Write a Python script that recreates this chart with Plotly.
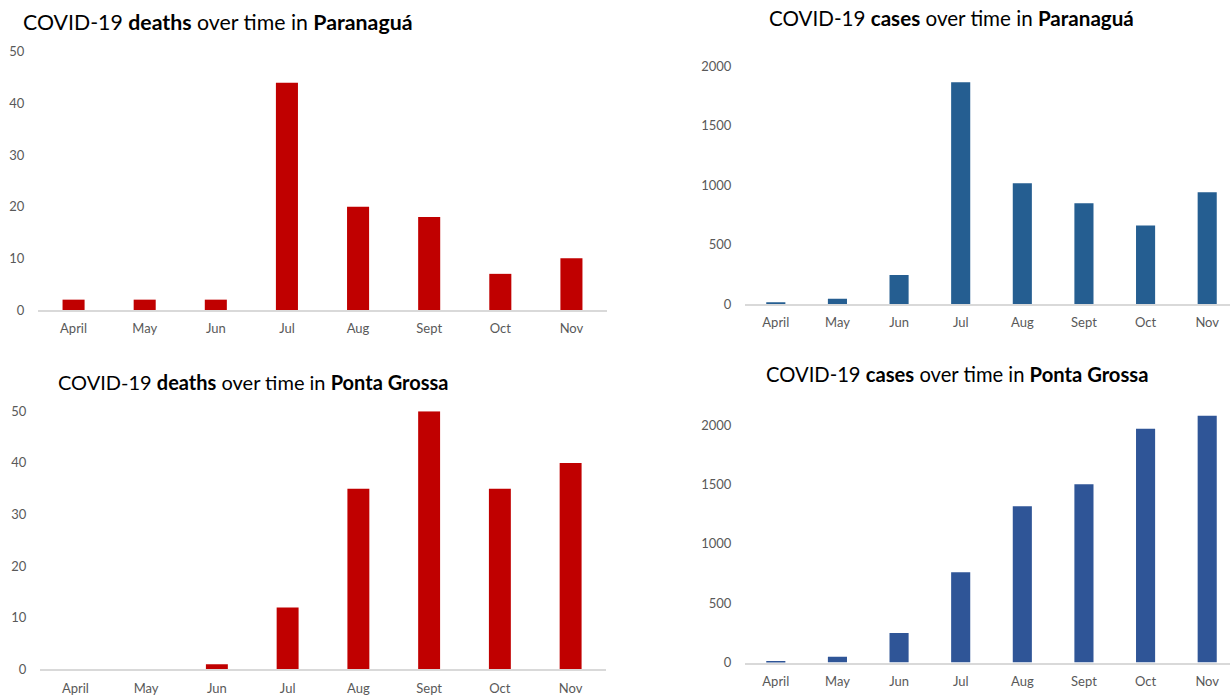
import plotly.graph_objects as go

W, H = 1230, 696

months = ['April', 'May', 'Jun', 'Jul', 'Aug', 'Sept', 'Oct', 'Nov']

# valores
deaths_paranagua = [2, 2, 2, 44, 20, 18, 7, 10]
cases_paranagua = [15, 45, 245, 1868, 1018, 848, 662, 942]
deaths_ponta_grossa = [0, 0, 1, 12, 35, 50, 35, 40]
cases_ponta_grossa = [14, 50, 250, 762, 1318, 1503, 1970, 2080]

red = '#C00000'
blue_top = '#255E91'
blue_bottom = '#2F5597'
font_name = 'Lato, Open Sans, sans-serif'
tick_grey = '#595959'


def px(x):
    return x / W


def py(y):
    return 1 - y / H


fig = go.Figure()

panels = [
    # (x, y, dados, cor, x_dom, y_dom, x_range, y_range, dtick)
    ('x', 'y', deaths_paranagua, red, [px(38), px(607)], [py(310), py(45)], [-0.5, 7.5], [0, 50], 10),
    ('x2', 'y2', cases_paranagua, blue_top, [px(745), 1.0], [py(304), py(60)], [-0.5, 7.37], [0, 2000], 500),
    ('x3', 'y3', deaths_ponta_grossa, red, [px(40), px(606)], [py(679), py(414)], [-0.5, 7.5], [0, 50], 10),
    ('x4', 'y4', cases_ponta_grossa, blue_bottom, [px(745), 1.0], [py(672), py(410)], [-0.5, 7.37], [0, 2150], 500),
]

layout_axes = {}
for i, (xa, ya, vals, col, xdom, ydom, xr, yr, dt) in enumerate(panels):
    fig.add_trace(go.Bar(
        x=months, y=vals, xaxis=xa, yaxis=ya,
        marker=dict(color=col, line=dict(width=0)),
        width=0.31, showlegend=False
    ))
    suffix = '' if i == 0 else str(i + 1)
    layout_axes['xaxis' + suffix] = dict(
        domain=xdom, range=xr, anchor=ya,
        showline=True, linecolor='#D9D9D9', linewidth=1.5,
        showgrid=False, zeroline=False,
        ticks='outside', ticklen=6, tickcolor='rgba(0,0,0,0)',
        tickfont=dict(size=13, color=tick_grey, family=font_name),
    )
    layout_axes['yaxis' + suffix] = dict(
        domain=ydom, range=yr, anchor=xa, dtick=dt,
        showline=False, showgrid=False, zeroline=False,
        ticks='outside', ticklen=10, tickcolor='rgba(0,0,0,0)',
        tickfont=dict(size=13, color=tick_grey, family=font_name),
    )

titles = [
    ('COVID-19 <b>deaths</b> over time in <b>Paranaguá</b>', px(21), py(14), 'left', 21.3),
    ('COVID-19 <b>cases</b> over time in <b>Paranaguá</b>', px(951), py(10), 'center', 20.6),
    ('COVID-19 <b>deaths</b> over time in <b>Ponta Grossa</b>', px(56), py(384), 'left', 20),
    ('COVID-19 <b>cases</b> over time in <b>Ponta Grossa</b>', px(957), py(376), 'center', 20.2),
]
annotations = []
for text, x, y, anchor, size in titles:
    annotations.append(dict(
        text=text, x=x, y=y, xref='paper', yref='paper',
        xanchor=anchor, yanchor='middle', showarrow=False,
        font=dict(size=size, color='black', family=font_name)
    ))

fig.update_layout(
    width=W, height=H,
    margin=dict(l=0, r=0, t=0, b=0),
    plot_bgcolor='white', paper_bgcolor='white',
    annotations=annotations,
    **layout_axes
)

# tirar a margem padrão do body para a figura ocupar a janela toda
fig.write_html("out.html", config={'displayModeBar': False},
               post_script="document.body.style.margin='0';")
